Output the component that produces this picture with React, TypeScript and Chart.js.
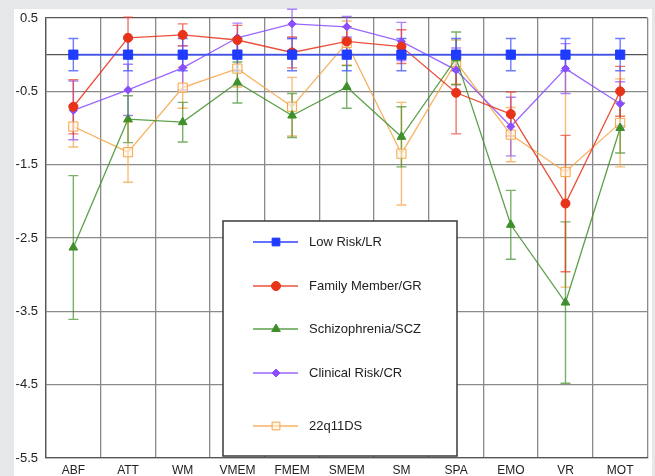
import React, { useEffect, useRef } from "react";
import { Chart, registerables } from "chart.js";
import { drawPoint } from "chart.js/helpers";

Chart.register(...registerables);

const categories = ["ABF", "ATT", "WM", "VMEM", "FMEM", "SMEM", "SM", "SPA", "EMO", "VR", "MOT"];
const yTickValues = [0.5, 0, -0.5, -1.5, -2.5, -3.5, -4.5, -5.5];

const lrValues = [0, 0, 0, 0, 0, 0, 0, 0, 0, 0, 0];
const lrErr = [0.22, 0.22, 0.22, 0.22, 0.22, 0.22, 0.22, 0.22, 0.22, 0.22, 0.22];

const grValues = [-0.71, 0.23, 0.27, 0.2, 0.03, 0.18, 0.11, -0.52, -0.81, -2.03, -0.5];
const grErr = [0.37, 0.28, 0.15, 0.2, 0.21, 0.2, 0.23, 0.56, 0.3, 0.93, 0.34];

const sczValues = [-2.63, -0.88, -0.92, -0.38, -0.83, -0.44, -1.12, -0.05, -2.32, -3.38, -1.0];
const sczErr = [0.98, 0.32, 0.27, 0.28, 0.3, 0.29, 0.41, 0.36, 0.47, 1.1, 0.34];

const crValues = [-0.76, -0.48, -0.18, 0.23, 0.42, 0.38, 0.18, -0.21, -0.98, -0.19, -0.67];
const crErr = [0.4, 0.35, 0.3, 0.2, 0.2, 0.14, 0.26, 0.3, 0.4, 0.34, 0.3];

const dsValues = [-0.98, -1.33, -0.45, -0.19, -0.71, 0.16, -1.35, -0.1, -1.09, -1.6, -0.93];
const dsErr = [0.28, 0.41, 0.28, 0.25, 0.4, 0.3, 0.7, 0.3, 0.37, 1.57, 0.6];

const FONT = "'Liberation Sans', Arial, sans-serif";

type Series = {
  label: string;
  data: number[];
  err: number[];
  color: string;
  lineColor: string;
  errColor: string;
  fill: string;
  pointStyle: string;
  radius: number;
  lineWidth: number;
};

const series: Series[] = [
  { label: "Low Risk/LR", data: lrValues, err: lrErr, color: "#1f3bff", lineColor: "rgba(60,80,255,0.8)", errColor: "rgba(60,80,255,0.75)", fill: "#1f3bff", pointStyle: "rect", radius: 6.5, lineWidth: 2 },
  { label: "Family Member/GR", data: grValues, err: grErr, color: "#e8321a", lineColor: "rgba(232,50,26,0.85)", errColor: "rgba(232,60,40,0.7)", fill: "#e8321a", pointStyle: "circle", radius: 4.5, lineWidth: 1.3 },
  { label: "Schizophrenia/SCZ", data: sczValues, err: sczErr, color: "#3f8f2a", lineColor: "rgba(63,143,42,0.85)", errColor: "rgba(63,143,42,0.7)", fill: "#3f8f2a", pointStyle: "triangle", radius: 5, lineWidth: 1.3 },
  { label: "Clinical Risk/CR", data: crValues, err: crErr, color: "#8a4dff", lineColor: "rgba(138,77,255,0.85)", errColor: "rgba(138,77,255,0.7)", fill: "#8a4dff", pointStyle: "rectRot", radius: 4, lineWidth: 1.3 },
  { label: "22q11DS", data: dsValues, err: dsErr, color: "#f5a545", lineColor: "rgba(245,165,69,0.85)", errColor: "rgba(245,165,69,0.75)", fill: "rgba(255,245,230,0.6)", pointStyle: "rect", radius: 6.5, lineWidth: 1.3 },
];

const bgPlugin = {
  id: "bgPanel",
  beforeDraw(chart: any) {
    const ctx = chart.ctx;
    ctx.save();
    ctx.fillStyle = "#e6e7e9";
    ctx.fillRect(0, 0, chart.width, chart.height);
    ctx.fillStyle = "#ffffff";
    ctx.fillRect(14, 9, 638, chart.height - 9);
    ctx.restore();
  },
};

const errPlugin = {
  id: "errBars",
  beforeDatasetsDraw(chart: any) {
    const ctx = chart.ctx;
    const y = chart.scales.y;
    ctx.save();
    for (let i = series.length - 1; i >= 0; i--) {
      const s = series[i];
      const meta = chart.getDatasetMeta(i);
      ctx.strokeStyle = s.errColor;
      ctx.lineWidth = 1.4;
      meta.data.forEach((pt: any, j: number) => {
        const v = s.data[j];
        const e = s.err[j];
        const yt = y.getPixelForValue(v + e);
        const yb = y.getPixelForValue(v - e);
        ctx.beginPath();
        ctx.moveTo(pt.x, yt);
        ctx.lineTo(pt.x, yb);
        ctx.moveTo(pt.x - 5, yt);
        ctx.lineTo(pt.x + 5, yt);
        ctx.moveTo(pt.x - 5, yb);
        ctx.lineTo(pt.x + 5, yb);
        ctx.stroke();
      });
    }
    ctx.restore();
  },
};

const legendYs = [242, 286, 329, 373, 426];

const legendPlugin = {
  id: "boxLegend",
  afterDraw(chart: any) {
    const ctx = chart.ctx;
    ctx.save();
    ctx.fillStyle = "#ffffff";
    ctx.fillRect(223, 221, 234, 235);
    ctx.strokeStyle = "#3a3a3a";
    ctx.lineWidth = 1.5;
    ctx.strokeRect(223, 221, 234, 235);
    series.forEach((s, i) => {
      const ly = legendYs[i];
      ctx.strokeStyle = s.lineColor;
      ctx.lineWidth = s.lineWidth;
      ctx.beginPath();
      ctx.moveTo(253, ly);
      ctx.lineTo(298, ly);
      ctx.stroke();
      ctx.fillStyle = s.fill;
      ctx.strokeStyle = s.color;
      ctx.lineWidth = 1;
      drawPoint(ctx, { pointStyle: s.pointStyle as any, rotation: 0, radius: s.pointStyle === "rect" ? 5.5 : s.radius, borderWidth: 1 }, 276, ly);
      ctx.fillStyle = "#222222";
      ctx.font = `13px ${FONT}`;
      ctx.textAlign = "left";
      ctx.textBaseline = "middle";
      ctx.fillText(s.label, 309, ly);
    });
    ctx.restore();
  },
};

export default function App() {
  const ref = useRef<HTMLCanvasElement | null>(null);
  useEffect(() => {
    if (!ref.current) return;
    const chart = new Chart(ref.current, {
      type: "line",
      data: {
        labels: categories,
        datasets: series.map((s) => ({
          label: s.label,
          data: s.data,
          borderColor: s.lineColor,
          backgroundColor: s.fill,
          pointBorderColor: s.color,
          pointBackgroundColor: s.fill,
          pointStyle: s.pointStyle as any,
          pointRadius: s.radius,
          pointBorderWidth: 1,
          borderWidth: s.lineWidth,
          tension: 0,
        })),
      },
      options: {
        animation: false,
        responsive: false,
        devicePixelRatio: 1,
        layout: { padding: { left: 0, right: 7, top: 18, bottom: 0 } },
        plugins: { legend: { display: false }, tooltip: { enabled: false } },
        scales: {
          x: {
            type: "category",
            offset: true,
            grid: { offset: true, color: "#8a8a8a", lineWidth: 1.3, drawTicks: false },
            border: { color: "#555", width: 1.3 },
            ticks: { color: "#222", font: { family: FONT, size: 12 }, padding: 5, maxRotation: 0, autoSkip: false },
            afterFit(scale: any) {
              scale.height = 18;
            },
          },
          y: {
            min: -5.5,
            max: 0.5,
            afterBuildTicks(scale: any) {
              scale.ticks = yTickValues.map((v) => ({ value: v }));
            },
            afterFit(scale: any) {
              scale.width = 46;
            },
            grid: {
              drawTicks: false,
              lineWidth: 1.3,
              color: (c: any) => (c.tick && (c.tick.value === 0 || c.tick.value === 0.5) ? "#555" : "#8a8a8a"),
            },
            border: { color: "#555", width: 1.3 },
            ticks: {
              color: "#222",
              font: { family: FONT, size: 13 },
              padding: 8,
              callback: (v: any) => (v === 0 ? "" : String(v)),
            },
          },
        },
      },
      plugins: [bgPlugin, errPlugin, legendPlugin],
    });
    return () => chart.destroy();
  }, []);
  return (
    <div style={{ position: "fixed", left: 0, top: 0, width: 655, height: 476 }}>
      <canvas ref={ref} width={655} height={476} />
    </div>
  );
}
